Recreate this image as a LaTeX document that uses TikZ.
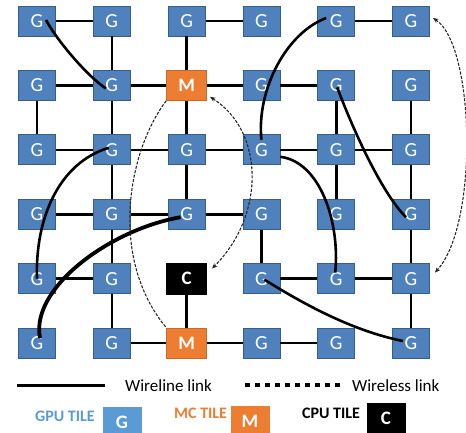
\documentclass[tikz,border=0pt]{standalone}
\usepackage{fontspec}
\setmainfont{Carlito}
\usetikzlibrary{arrows.meta}
\definecolor{tileblue}{RGB}{79,129,189}
\definecolor{tileedge}{RGB}{56,93,138}
\definecolor{gpublue}{RGB}{91,155,213}
\definecolor{mcorange}{RGB}{237,125,49}
\tikzset{
  tile/.style={draw=tileedge, fill=tileblue, line width=0.8pt, minimum width=37pt, minimum height=30pt,
    inner sep=0pt, text=white, font=\fontsize{20}{20}\selectfont},
  tile G/.style={tile},
  tile M/.style={tile, draw=mcorange!85!black, fill=mcorange, minimum width=40pt, font=\fontsize{19}{19}\selectfont\bfseries},
  tile C/.style={tile, draw=black, fill=black, minimum width=40pt, minimum height=31pt, font=\fontsize{19}{19}\selectfont\bfseries},
  wire/.style={line width=2.6pt},
  wireless/.style={line width=1.1pt, black!85, dash pattern=on 3pt off 1.5pt},
  keybox/.style={minimum width=39pt, minimum height=30pt, inner sep=0pt, text=white, font=\fontsize{19}{19}\selectfont\bfseries},
  keytext/.style={anchor=west, inner sep=0pt, font=\fontsize{17}{17}\selectfont},
  keyname/.style={anchor=west, inner sep=0pt, font=\fontsize{16}{16}\selectfont\bfseries},
}

\begin{document}
\begin{tikzpicture}[x=1pt, y=-1pt, >={Stealth[length=5.5pt,width=4.5pt]}]
    \useasboundingbox (0,0) rectangle (466,432);
    \foreach \r/\kinds in {0/{G,G,G,G,G,G}, 1/{G,G,M,G,G,G}, 2/{G,G,G,G,G,G},
                           3/{G,G,G,G,G,G}, 4/{G,G,C,G,G,G}, 5/{G,G,M,G,G,G}}{
        \foreach \k [count=\c from 0] in \kinds{
            \node[tile \k] (t-\c-\r) at ({37+74.8*\c},{21+64.4*\r}) {\k};
        }
    }
    \foreach \a/\b in {0-0/1-0, 2-0/3-0, 4-0/5-0, 1-0/1-1, 2-0/2-1,
                       0-1/1-1, 1-1/2-1, 2-1/3-1, 3-1/4-1, 0-1/0-2, 1-1/1-2, 4-1/4-2, 5-1/5-2,
                       0-2/1-2, 1-2/2-2, 2-2/3-2, 3-2/4-2, 4-2/5-2, 1-2/1-3, 2-2/2-3, 4-2/4-3, 5-2/5-3,
                       0-3/1-3, 1-3/2-3, 2-3/3-3, 1-3/1-4, 3-3/3-4, 5-3/5-4,
                       0-4/1-4, 3-4/4-4, 4-4/5-4, 1-4/1-5, 2-4/2-5, 5-4/5-5,
                       1-5/2-5, 2-5/3-5, 3-5/4-5}{
        \draw[wire] (t-\a) -- (t-\b);
    }
    \draw[wire, line width=3.4pt] (t-2-1) -- (t-2-2);

    % long wires
    \draw[wire] ([shift={(9,-1)}]t-0-0.center) .. controls +(12,22) and +(-18,-12) .. ([shift={(-6,3)}]t-1-1.center);
    \draw[wire] ([shift={(-10,-3)}]t-4-0.center) .. controls +(-40,15) and +(-5,-50) .. ([shift={(0,-10)}]t-3-2.center);
    \draw[wire] ([shift={(-3,-2)}]t-1-2.center) .. controls +(-50,15) and +(-2,-60) .. (t-0-4.center);
    \draw[wire, line width=3.8pt] ([shift={(-6,3)}]t-2-3.center) .. controls +(-70,12) and +(-10,-50) .. ([shift={(3,-5)}]t-0-5.center);
    \draw[wire] ([shift={(1,2)}]t-4-1.center) .. controls +(15,40) and +(-25,-25) .. ([shift={(-5,3)}]t-5-3.center);
    \draw[wire] ([shift={(0,7)}]t-3-2.east) .. controls +(40,5) and +(5,-50) .. ([shift={(-1,-6)}]t-4-4.center);
    \draw[wire] ([shift={(3,1)}]t-3-4.center) .. controls +(40,25) and +(-50,-10) .. ([shift={(-8,-2)}]t-5-5.center);

    % wireless
    \draw[wireless] (t-2-1.south west) .. controls +(-38,50) and +(-58,-70) .. (t-2-5.north west);
    \draw[wireless, <->] ([shift={(3,-4)}]t-2-1.south east) .. controls +(55,35) and +(53,-53) .. ([shift={(5,-10)}]t-2-4.east);
    \draw[wireless, <->] ([shift={(3,-3)}]t-5-0.east) .. controls +(42,27) and +(44,-48) .. ([shift={(5,-6)}]t-5-4.east);

    % key
    \coordinate (wl-a) at (17,385);
    \coordinate (wl-b) at (105,385);
    \draw[line width=3pt] (wl-a) -- (wl-b);
    \node[keytext] (wl-txt) at (125,386) {Wireline link};
    \coordinate (ws-a) at (245,385);
    \coordinate (ws-b) at (342,385);
    \draw[line width=4.5pt, dash pattern=on 5pt off 5pt] (ws-a) -- (ws-b);
    \node[keytext] (ws-txt) at (352,386) {Wireless link};

    \node[keyname, text=gpublue] (gpu-txt) at (35,416) {GPU TILE};
    \node[keybox, fill=gpublue] (gpu-key) at (122,422) {G};
    \node[keyname, text=mcorange] (mc-txt) at (174,413) {MC TILE};
    \node[keybox, fill=mcorange] (mc-key) at (250,421) {M};
    \node[keyname] (cpu-txt) at (302,413) {CPU TILE};
    \node[keybox, fill=black] (cpu-key) at (386,418) {C};
\end{tikzpicture}
\end{document}
